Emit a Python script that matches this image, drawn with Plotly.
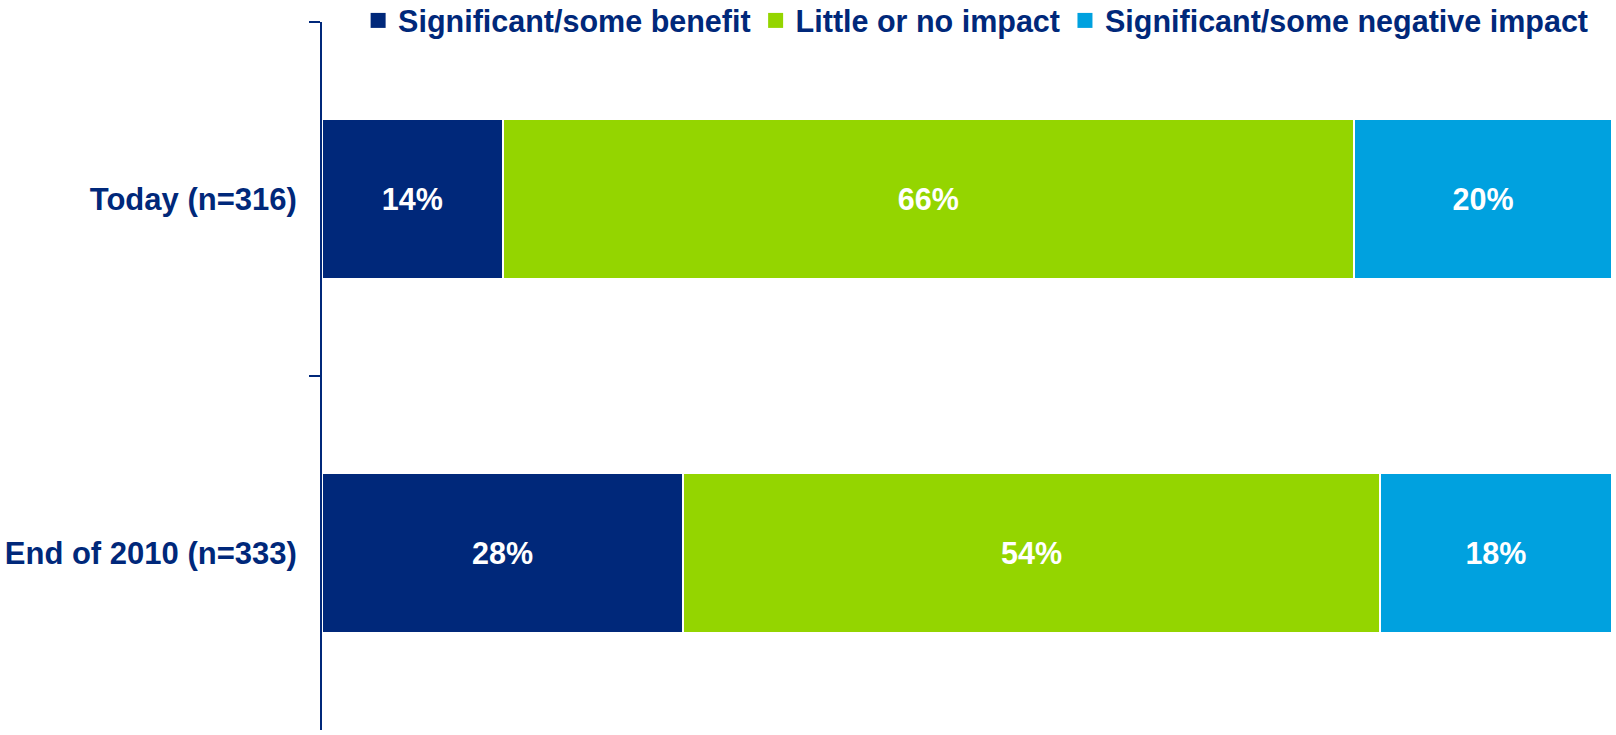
import plotly.graph_objects as go

# Survey responses, share of respondents (%)
categories = ["Today (n=316)", "End of 2010 (n=333)"]
series_names = [
    "Significant/some benefit",
    "Little or no impact",
    "Significant/some negative impact",
]
benefit = [14, 28]
no_impact = [66, 54]
negative = [20, 18]
series_values = [benefit, no_impact, negative]
colors = ["#00287A", "#94D500", "#00A1DF"]

NAVY = "#00287A"
FONT = "Liberation Sans, Arial, sans-serif"

fig = go.Figure()
for name, vals, col in zip(series_names, series_values, colors):
    fig.add_trace(
        go.Bar(
            y=categories,
            x=vals,
            name=name,
            orientation="h",
            width=0.45,
            marker=dict(color=col, line=dict(color="white", width=2)),
            text=[f"{v}%" for v in vals],
            textposition="inside",
            insidetextanchor="middle",
            textangle=0,
            constraintext="none",
            textfont=dict(family=FONT, size=30.5, color="white", weight="bold"),
            hoverinfo="skip",
            showlegend=False,
        )
    )
    # legend swatch
    fig.add_trace(
        go.Scatter(
            x=[None],
            y=[None],
            mode="markers",
            name=name,
            marker=dict(symbol="square", size=15, color=col),
            showlegend=True,
        )
    )

fig.update_layout(
    barmode="stack",
    width=1616,
    height=735,
    margin=dict(l=322, r=4, t=22, b=5, autoexpand=False),
    plot_bgcolor="white",
    paper_bgcolor="white",
    font=dict(family=FONT, size=30, color=NAVY, weight="bold"),
    legend=dict(
        orientation="h",
        x=0.028,
        xanchor="left",
        y=1.002,
        yanchor="middle",
        font=dict(family=FONT, size=30.5, color=NAVY, weight="bold"),
        itemsizing="trace",
        bgcolor="rgba(0,0,0,0)",
        traceorder="normal",
    ),
    xaxis=dict(
        range=[0, 100],
        visible=False,
        showgrid=False,
        zeroline=False,
    ),
    yaxis=dict(
        type="category",
        categoryorder="array",
        categoryarray=categories,
        autorange=False,
        range=[1.5, -0.5],
        showline=True,
        linecolor=NAVY,
        linewidth=2,
        ticks="outside",
        tickson="boundaries",
        ticklen=11,
        tickwidth=2,
        tickcolor=NAVY,
        ticklabelstandoff=17,
        showgrid=False,
        zeroline=False,
        tickfont=dict(family=FONT, size=31, color=NAVY, weight="bold"),
    ),
)

fig.write_html("out.html")
